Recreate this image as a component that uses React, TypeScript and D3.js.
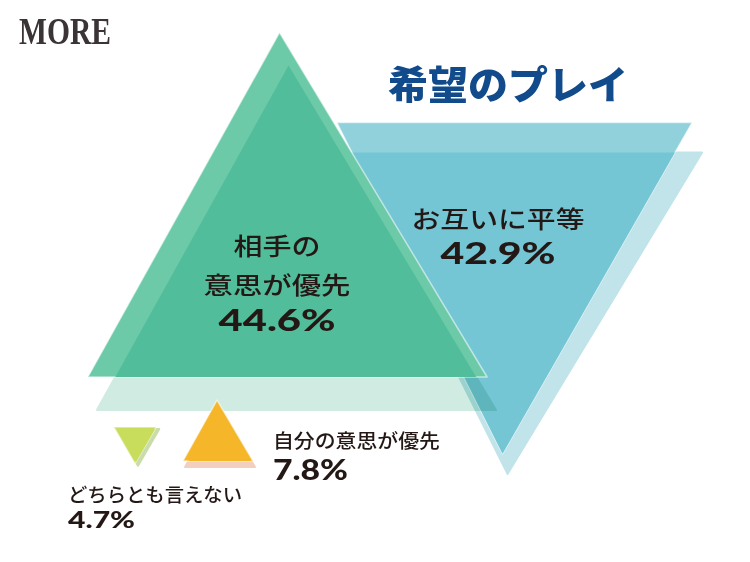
import React from 'react';
import * as d3 from 'd3';

// survey answers (希望のプレイ)
const categories = ['相手の意思が優先', 'お互いに平等', '自分の意思が優先', 'どちらとも言えない'];
const values = [44.6, 42.9, 7.8, 4.7];
const labelLines = [['相手の', '意思が優先'], ['お互いに平等'], ['自分の意思が優先'], ['どちらとも言えない']];
const title = '希望のプレイ';
const brand = 'MORE';

const W = 750;
const H = 562;

// triangle height from the share
const heightScale = d3.scaleLinear().domain([0, 10, 50]).range([0, 78, 386]);

type Layout = {
  dir: 'up' | 'down';
  ax: number; ay: number; aspect: number; tip: number;
  back: { dx: number; dy: number; k: number; tip: number };
  front: string; backFill: string; overlap: string;
  anchor: 'middle' | 'start';
  lx: number; lineY: number[]; lineSize: number; lineLen: number[];
  vy: number; vSize: number; vLen: number;
};

const layout: Layout[] = [
  {
    dir: 'up', ax: 287.5, ay: 377, aspect: 1.159, tip: -8,
    back: { dx: 9, dy: 33, k: 1, tip: -8 },
    front: '#6ccaa9', backFill: '#cfebe2', overlap: '#52bd9a',
    anchor: 'middle', lx: 277, lineY: [244, 283], lineSize: 24, lineLen: [87, 147],
    vy: 331, vSize: 30, vLen: 117,
  },
  {
    dir: 'down', ax: 514.5, ay: 122.5, aspect: 1.072, tip: -12,
    back: { dx: 10, dy: 30, k: 0.97, tip: -17 },
    front: '#90d1dc', backFill: '#c0e4e9', overlap: '#74c6d4',
    anchor: 'middle', lx: 498, lineY: [217], lineSize: 24, lineLen: [173],
    vy: 264, vSize: 30, vLen: 115,
  },
  {
    dir: 'up', ax: 218, ay: 461, aspect: 1.15, tip: -1,
    back: { dx: 2, dy: 6, k: 1, tip: -1 },
    front: '#f5b62a', backFill: '#f3cfc0', overlap: '#f5b62a',
    anchor: 'start', lx: 273, lineY: [439], lineSize: 19, lineLen: [167],
    vy: 480, vSize: 29, vLen: 75,
  },
  {
    dir: 'down', ax: 135, ay: 427, aspect: 1.16, tip: 0,
    back: { dx: 3, dy: 2, k: 1, tip: 0 },
    front: '#c8dd5c', backFill: '#c9dcaa', overlap: '#c8dd5c',
    anchor: 'start', lx: 68, lineY: [493], lineSize: 19, lineLen: [174],
    vy: 528, vSize: 23, vLen: 67,
  },
];

const line = d3.line().curve(d3.curveLinearClosed);

function triPoints(dir: 'up' | 'down', ax: number, ay: number, w: number, h: number, tip: number): [number, number][] {
  const s = dir === 'up' ? -1 : 1;
  return [[ax - w / 2, ay], [ax + w / 2, ay], [ax + tip, ay + s * h]];
}

const jp = '"Noto Sans CJK JP", "Noto Sans", sans-serif';
const num = 'Lato, "Noto Sans", sans-serif';
const ink = '#231815';

export default function App() {
  const shapes = values.map((v, i) => {
    const L = layout[i];
    const h = heightScale(v);
    const w = h * L.aspect;
    const front = triPoints(L.dir, L.ax, L.ay, w, h, L.tip);
    const back = triPoints(L.dir, L.ax + L.back.dx, L.ay + L.back.dy, w, h * L.back.k, L.back.tip);
    return { front: line(front) as string, back: line(back) as string };
  });

  // blue first, then green on top, then the small ones
  const order = [1, 0, 2, 3];

  return (
    <svg width={W} height={H} viewBox={`0 0 ${W} ${H}`}
      style={{ position: 'absolute', left: 0, top: 0, background: '#fff' }}>
      <defs>
        {shapes.map((s, i) => (
          <clipPath id={`clip-${i}`} key={i}><path d={s.front} /></clipPath>
        ))}
      </defs>

      <text x={19} y={44} fontFamily='"Liberation Serif", "DejaVu Serif", serif' fontSize={37}
        fontWeight={700} fill="#3b3436" textLength={92} lengthAdjust="spacingAndGlyphs">{brand}</text>

      {order.map(i => {
        const L = layout[i];
        const blend = i === 0 ? 'multiply' : 'normal';
        return (
          <g key={categories[i]}>
            <path d={shapes[i].back} fill={L.backFill} strokeLinejoin="round"
              stroke={L.backFill} strokeWidth={2} style={{ mixBlendMode: blend as any }} />
            <path d={shapes[i].front} fill={L.front} strokeLinejoin="round"
              stroke="rgba(255,255,255,0.55)" strokeWidth={1.5} />
            <path d={shapes[i].back} fill={L.overlap} clipPath={`url(#clip-${i})`} />
          </g>
        );
      })}

      <text x={508} y={82} textAnchor="middle" dominantBaseline="central" fontFamily={jp}
        fontWeight={900} fontSize={39} fill="#114b8b" textLength={240}
        lengthAdjust="spacingAndGlyphs">{title}</text>

      {values.map((v, i) => {
        const L = layout[i];
        return (
          <g key={'lab' + i} fill={ink} textAnchor={L.anchor}>
            {labelLines[i].map((t, j) => (
              <text key={j} x={L.lx} y={L.lineY[j]} dominantBaseline="central" fontFamily={jp}
                fontWeight={500} fontSize={L.lineSize} textLength={L.lineLen[j]}
                lengthAdjust="spacingAndGlyphs">{t}</text>
            ))}
            <text x={L.lx} y={L.vy} fontFamily={num} fontWeight={900} fontSize={L.vSize}
              textLength={L.vLen} lengthAdjust="spacingAndGlyphs">{`${v}%`}</text>
          </g>
        );
      })}
    </svg>
  );
}
